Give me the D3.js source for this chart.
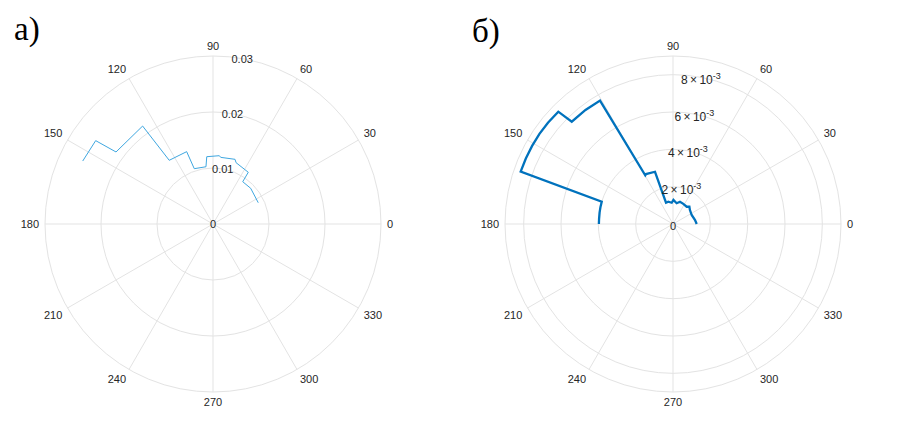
<!DOCTYPE html>
<html><head><meta charset="utf-8">
<script src="https://cdn.jsdelivr.net/npm/d3@7"></script>
<style>body{margin:0;background:#fff}svg{display:block}</style>
</head><body>
<script>
// ---- data (angle in degrees, radius value) ----
const angleTicks = [0,30,60,90,120,150,180,210,240,270,300,330];
const leftRTicks = [0, 0.01, 0.02, 0.03];
const leftRTickLabels = ["0","0.01","0.02","0.03"];
const leftRMax = 0.03;
const leftAngles = [154.2,144.6,143.4,125.7,124.5,110,108.7,97,95.3,84.7,83.4,71.2,69.4,55.7,54.9,43.4,25.2];
const leftRadii  = [0.02584,0.02570,0.02157,0.02154,0.01380,0.01375,0.01043,0.01030,0.01207,0.01225,0.01198,0.01220,0.01170,0.01118,0.00923,0.00927,0.00893];

const rightRTicks = [0, 0.002, 0.004, 0.006, 0.008];
const rightRTickMant = ["0","2","4","6","8"];
const rightRMax = 0.009;
const rightAngles = [0,10.3,25.7,40,46.7,51.6,62.8,72.6,80,89,93.5,101.9,108.2,109,118.4,119.7,120.6,127.5,134.7,135.6,141,146,151,156,161,162.6,167,171,176,180];
const rightRadii  = [0.00127,0.00120,0.00111,0.00118,0.00128,0.00118,0.00121,0.00125,0.00113,0.00129,0.00114,0.00122,0.00120,0.00296,0.00304,0.00300,0.00768,0.00770,0.00771,0.00860,0.00862,0.00863,0.00863,0.00863,0.00863,0.00400,0.00399,0.00398,0.00397,0.00397];

const W = 906, H = 448, R = 168;
const svg = d3.select("body").append("svg").attr("width", W).attr("height", H);
const ang = d3.scaleLinear().domain([0,360]).range([Math.PI/2, Math.PI/2 - 2*Math.PI]); // d3 radial angle (clockwise from top)
const gridColor = "#e3e3e3", textColor = "#262626";
const font = "'Liberation Sans', Arial, sans-serif";

function polar(cx, cy, rmax, ticks, fmtLabel, angles, radii, color, width) {
  const r = d3.scaleLinear().domain([0, rmax]).range([0, R]);
  const g = svg.append("g").attr("transform", `translate(${cx},${cy})`);
  const rings = ticks.filter(t => t > 0);
  if (!rings.includes(rmax)) rings.push(rmax);
  g.selectAll("circle.ring").data(rings).join("circle")
    .attr("r", d => r(d)).attr("fill","none").attr("stroke", gridColor).attr("stroke-width", 1);
  g.selectAll("line.spoke").data(angleTicks).join("line")
    .attr("x1",0).attr("y1",0)
    .attr("x2", d => R*Math.cos(d*Math.PI/180)).attr("y2", d => -R*Math.sin(d*Math.PI/180))
    .attr("stroke", gridColor).attr("stroke-width", 1);
  angleTicks.forEach(a => {
    const c = Math.cos(a*Math.PI/180), s = Math.sin(a*Math.PI/180);
    const px = (R+6)*c, py = -(R+6)*s;
    const anchor = c > 0.1 ? "start" : (c < -0.1 ? "end" : "middle");
    const dy = s > 0.1 ? 0 : (s < -0.1 ? 8 : 4);
    g.append("text").attr("x", px).attr("y", py + dy).attr("text-anchor", anchor)
      .attr("font-family", font).attr("font-size", 11).attr("fill", textColor).text(a);
  });
  const pts = angles.map((a,i) => [a, radii[i]]);
  const line = d3.lineRadial().angle(d => ang(d[0])).radius(d => r(d[1]));
  g.append("path").attr("d", line(pts)).attr("fill","none")
    .attr("stroke", color).attr("stroke-width", width).attr("stroke-linejoin","miter");
  ticks.forEach((t,i) => {
    const rr = r(t), a = 80*Math.PI/180;
    fmtLabel(g, rr*Math.cos(a), -rr*Math.sin(a), i);
  });
  return g;
}

polar(213, 224, leftRMax, leftRTicks, (g,x,y,i) => {
  g.append("text").attr("x", x).attr("y", y+4).attr("text-anchor","middle")
    .attr("font-family", font).attr("font-size", 11).attr("fill", textColor).text(leftRTickLabels[i]);
}, leftAngles, leftRadii, "#3fa7e0", 1);

polar(673, 224, rightRMax, rightRTicks, (g,x,y,i) => {
  const t = g.append("text").attr("font-family", font).attr("font-size", 12).attr("fill", textColor);
  if (i === 0) {
    t.attr("x", x).attr("y", y+6).attr("font-size", 11).attr("text-anchor","middle").text("0");
  } else {
    t.attr("x", x - 18).attr("y", y+7);
    t.append("tspan").text(rightRTickMant[i] + "\u2009\u00d7\u200910");
    t.append("tspan").attr("dy", -5).attr("font-size", 9).text("-3");
  }
}, rightAngles, rightRadii, "#0072bd", 2.3);

svg.append("text").attr("x", 14).attr("y", 40).attr("font-family","'Liberation Serif', 'Times New Roman', serif")
  .attr("font-size", 33).attr("fill","#000").text("а)");
svg.append("text").attr("x", 472).attr("y", 42).attr("font-family","'Liberation Serif', 'Times New Roman', serif")
  .attr("font-size", 33).attr("fill","#000").text("б)");
</script>
</body></html>
